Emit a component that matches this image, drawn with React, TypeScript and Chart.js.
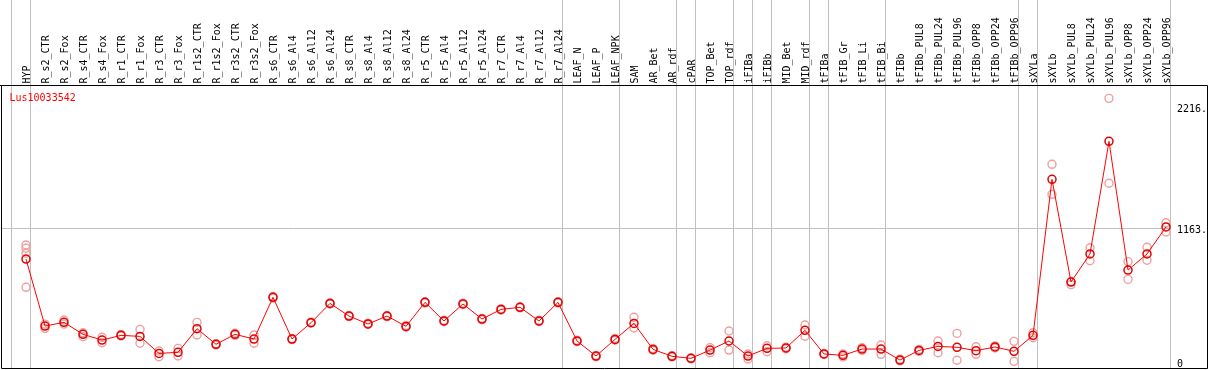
import React, { useEffect, useRef } from 'react';
import { Chart, registerables } from 'chart.js';

Chart.register(...registerables);

const geneId = 'Lus10033542';

const categories = [
  'HYP', 'R_s2_CTR', 'R_s2_Fox', 'R_s4_CTR', 'R_s4_Fox', 'R_r1_CTR', 'R_r1_Fox', 'R_r3_CTR', 'R_r3_Fox',
  'R_r1s2_CTR', 'R_r1s2_Fox', 'R_r3s2_CTR', 'R_r3s2_Fox', 'R_s6_CTR', 'R_s6_Al4', 'R_s6_Al12', 'R_s6_Al24',
  'R_s8_CTR', 'R_s8_Al4', 'R_s8_Al12', 'R_s8_Al24', 'R_r5_CTR', 'R_r5_Al4', 'R_r5_Al12', 'R_r5_Al24',
  'R_r7_CTR', 'R_r7_Al4', 'R_r7_Al12', 'R_r7_Al24', 'LEAF_N', 'LEAF_P', 'LEAF_NPK', 'SAM', 'AR_Bet', 'AR_rdf',
  'cPAR', 'TOP_Bet', 'TOP_rdf', 'iFIBa', 'iFIBb', 'MID_Bet', 'MID_rdf', 'tFIBa', 'tFIB_Gr', 'tFIB_Li', 'tFIB_Bi',
  'tFIBb', 'tFIBb_PUL8', 'tFIBb_PUL24', 'tFIBb_PUL96', 'tFIBb_OPP8', 'tFIBb_OPP24', 'tFIBb_OPP96', 'sXYLa',
  'sXYLb', 'sXYLb_PUL8', 'sXYLb_PUL24', 'sXYLb_PUL96', 'sXYLb_OPP8', 'sXYLb_OPP24', 'sXYLb_OPP96',
];

const meanValues = [
  896, 313, 345, 241, 191, 232, 223, 75, 84, 290, 154, 241, 200, 563, 200,
  342, 510, 400, 331, 400, 310, 519, 357, 505, 374, 458, 476, 357, 519, 183, 52,
  197, 336, 110, 50, 32, 104, 183, 52, 119, 122, 276, 70, 58, 113, 113, 17,
  101, 136, 128, 99, 131, 93, 232, 1589, 696, 940, 1920, 800, 940, 1175,
];

const repHigh = [
  1018, 330, 365, 255, 215, 240, 284, 96, 119, 345, 160, 250, 235, 570, 205,
  348, 516, 406, 338, 405, 318, 524, 363, 512, 380, 463, 481, 364, 525, 190, 58,
  205, 389, 118, 56, 36, 125, 270, 70, 142, 130, 322, 74, 70, 125, 148, 25,
  110, 183, 249, 133, 140, 180, 255, 1720, 700, 994, 2294, 873, 998, 1212,
];

const repLow = [
  650, 293, 330, 220, 168, 226, 163, 46, 52, 235, 148, 232, 163, 556, 195,
  338, 505, 395, 326, 394, 303, 514, 351, 500, 368, 452, 471, 352, 513, 176, 46,
  190, 296, 102, 44, 28, 81, 104, 26, 90, 115, 224, 66, 45, 100, 67, 10,
  92, 81, 15, 67, 122, 6, 211, 1459, 673, 881, 1555, 719, 885, 1131,
];

// extra replicates: [category index, value]
const extraReps: [number, number][] = [[0, 990], [0, 946]];

const yTickValues = [0, 1163, 2216];
const yGridValues = [1163];

// group separators are drawn just after these category indexes
const groupBreaks = [-1, 0, 28, 31, 34, 35, 37, 38, 39, 41, 42, 45, 52, 53, 60];

const FONT = 'DejaVu Sans Mono';

const decorPlugin = {
  id: 'decor',
  beforeDatasetsDraw(chart: any) {
    const ctx = chart.ctx;
    const xs = chart.scales.x;
    ctx.save();
    ctx.strokeStyle = '#c0c0c0';
    ctx.lineWidth = 1;
    groupBreaks.forEach((b) => {
      const px = Math.floor(xs.getPixelForValue(b + 0.25)) + 0.5;
      ctx.beginPath();
      ctx.moveTo(px, 0);
      ctx.lineTo(px, 368);
      ctx.stroke();
    });
    ctx.restore();
  },
  afterDraw(chart: any) {
    const ctx = chart.ctx;
    const xs = chart.scales.x;
    ctx.save();
    // frame
    ctx.strokeStyle = '#000000';
    ctx.lineWidth = 1;
    ctx.beginPath();
    ctx.moveTo(0, 85.5);
    ctx.lineTo(1207.5, 85.5);
    ctx.lineTo(1207.5, 368.5);
    ctx.lineTo(1.5, 368.5);
    ctx.lineTo(1.5, 85.5);
    ctx.stroke();
    // category labels
    ctx.fillStyle = '#000000';
    ctx.font = `10px "${FONT}"`;
    ctx.textAlign = 'left';
    ctx.textBaseline = 'alphabetic';
    categories.forEach((c, i) => {
      const px = xs.getPixelForValue(i);
      ctx.save();
      ctx.translate(px + 3.5, 83.5);
      ctx.rotate(-Math.PI / 2);
      ctx.fillText(c, 0, 0);
      ctx.restore();
    });
    // gene id
    ctx.fillStyle = '#ff0000';
    ctx.fillText(geneId, 9.5, 100.5);
    ctx.restore();
  },
};

export default function App() {
  const ref = useRef<HTMLCanvasElement>(null);
  useEffect(() => {
    document.body.style.margin = '0';
    const toPts = (arr: number[]) => arr.map((v, i) => ({ x: i, y: v }));
    const repStyle = {
      showLine: false,
      pointRadius: 4,
      pointBorderWidth: 1.4,
      pointBorderColor: '#eda0a0',
      pointBackgroundColor: 'transparent',
      borderColor: '#eda0a0',
      order: 1,
    };
    const chart = new Chart(ref.current!, {
      type: 'scatter',
      data: {
        datasets: [
          {
            label: 'mean',
            data: toPts(meanValues),
            showLine: true,
            borderColor: '#ff0000',
            borderWidth: 1,
            pointRadius: 4,
            pointBorderWidth: 1.5,
            pointBorderColor: '#e00000',
            pointBackgroundColor: 'transparent',
            order: 0,
          } as any,
          { label: 'repHigh', data: toPts(repHigh), ...repStyle } as any,
          { label: 'repLow', data: toPts(repLow), ...repStyle } as any,
          { label: 'extra', data: extraReps.map(([i, v]) => ({ x: i, y: v })), ...repStyle } as any,
        ],
      },
      options: {
        animation: false,
        responsive: false,
        devicePixelRatio: 1,
        events: [],
        layout: { autoPadding: false, padding: { left: 1, top: 85, right: 0, bottom: 2 } },
        plugins: { legend: { display: false }, tooltip: { enabled: false } },
        scales: {
          x: {
            type: 'linear',
            display: false,
            min: -25 / 19,
            max: -25 / 19 + 1170 / 19,
          },
          y: {
            type: 'linear',
            position: 'right',
            min: -52,
            max: 2410,
            border: { display: false },
            grid: {
              drawTicks: false,
              lineWidth: 1,
              color: (ctx: any) =>
                ctx.tick && yGridValues.includes(ctx.tick.value) ? '#c0c0c0' : 'rgba(0,0,0,0)',
            },
            afterBuildTicks: (scale: any) => {
              scale.ticks = yTickValues.map((v) => ({ value: v }));
            },
            afterFit: (scale: any) => {
              scale.width = 38;
              scale.paddingTop = 0;
              scale.paddingBottom = 0;
              scale.paddingLeft = 0;
              scale.paddingRight = 0;
            },
            ticks: {
              padding: 6,
              labelOffset: 2,
              color: '#000000',
              font: { family: FONT, size: 10 },
              callback: (v: any) => (v === 0 ? '0' : `${v}.`),
            },
          },
        },
      },
      plugins: [decorPlugin],
    } as any);
    return () => chart.destroy();
  }, []);
  return (
    <div style={{ width: 1209, height: 370 }}>
      <canvas ref={ref} width={1209} height={370} style={{ display: 'block' }} />
    </div>
  );
}
